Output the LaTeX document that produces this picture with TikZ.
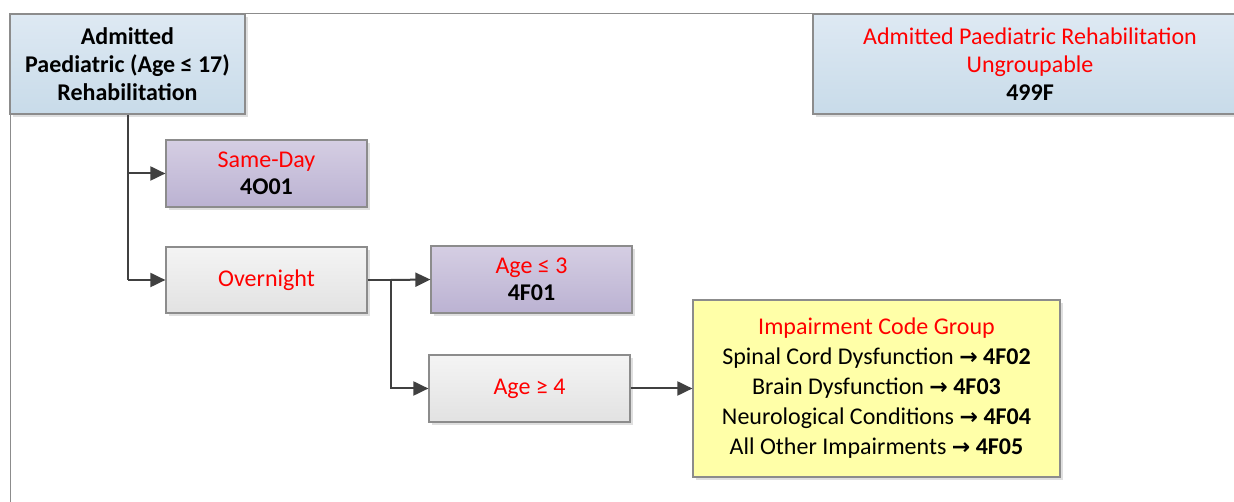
\documentclass[tikz,border=0pt]{standalone}
\usepackage{fontspec}
\setmainfont{Carlito}
\usetikzlibrary{arrows.meta,shadows}
\definecolor{bord}{HTML}{8C8C8C}
\definecolor{lnk}{HTML}{404040}
\definecolor{txtred}{HTML}{FF0000}
\tikzset{
  box/.style={draw=bord, line width=1.2pt, align=center, inner sep=0pt,
    font=\fontsize{24}{28}\selectfont,
    drop shadow={shadow xshift=3pt, shadow yshift=-3pt, opacity=0.25, fill=gray}},
  bluebox/.style={box, top color={rgb,255:red,222;green,233;blue,243}, bottom color={rgb,255:red,200;green,219;blue,233}},
  purplebox/.style={box, top color={rgb,255:red,213;green,206;blue,227}, bottom color={rgb,255:red,187;green,178;blue,210}},
  greybox/.style={box, top color={rgb,255:red,244;green,244;blue,244}, bottom color={rgb,255:red,226;green,226;blue,226}},
  yellowbox/.style={box, fill={rgb,255:red,255;green,255;blue,168}, font=\fontsize{24}{30}\selectfont},
  link/.style={draw=lnk, line width=2pt},
  arr/.style={link, -{Triangle[length=15pt,width=14pt]}},
  frame/.style={draw=bord, line width=1pt}
}
\newcommand{\rd}[1]{\textcolor{txtred}{#1}}
\newcommand{\ar}{{\fontspec{DejaVu Sans}\fontsize{22}{22}\selectfont\bfseries →}}
\begin{document}
\begin{tikzpicture}[x=1pt,y=1pt]
\useasboundingbox (0,0) rectangle (1234,502);
\coordinate (ftl) at (10,488);
\coordinate (ftr) at (1234,488);
\coordinate (fbl) at (10,0);
\draw[frame] (ftr) -- (ftl) -- (fbl);

\node[bluebox, minimum width=235pt, minimum height=100pt] (root) at (127.5,438)
  {\textbf{Admitted}\\\textbf{Paediatric (Age ≤ 17)}\\\textbf{Rehabilitation}};
\node[bluebox, minimum width=434pt, minimum height=100pt] (ung) at (1030,438)
  {\rd{Admitted Paediatric Rehabilitation}\\\rd{Ungroupable}\\\textbf{499F}};
\node[purplebox, minimum width=201pt, minimum height=67pt] (sd) at (266.5,328.5)
  {\rd{Same-Day}\\[-1pt]\textbf{4O01}};
\node[greybox, minimum width=201pt, minimum height=66pt] (on) at (266.5,222)
  {\rd{Overnight}};
\node[purplebox, minimum width=201pt, minimum height=67pt] (a3) at (531.5,222.5)
  {\rd{Age ≤ 3}\\[-1pt]\textbf{4F01}};
\node[greybox, minimum width=201pt, minimum height=67pt] (a4) at (529.5,113.5)
  {\rd{Age ≥ 4}};
\node[yellowbox, minimum width=367pt, minimum height=177pt] (imp) at (876.5,113.5)
  {\rd{Impairment Code Group}\\
   Spinal Cord Dysfunction \ar{} \textbf{4F02}\\
   Brain Dysfunction \ar{}\ \textbf{4F03}\\
   Neurological Conditions \ar{}\ \textbf{4F04}\\
   All Other Impairments \ar{} \textbf{4F05}};

\coordinate (j1) at (root.south |- on.west);
\coordinate (j2) at (391,222);
\draw[link] (root.south) -- (j1);
\draw[arr] (root.south |- sd.west) -- (sd.west);
\draw[arr] (j1) -- (on.west);
\draw[link] (on.east) -- (j2);
\draw[arr] (j2) -- (a3.west);
\draw[arr] (j2) |- (a4.west);
\draw[arr] (a4.east) -- (imp.west);
\end{tikzpicture}
\end{document}
